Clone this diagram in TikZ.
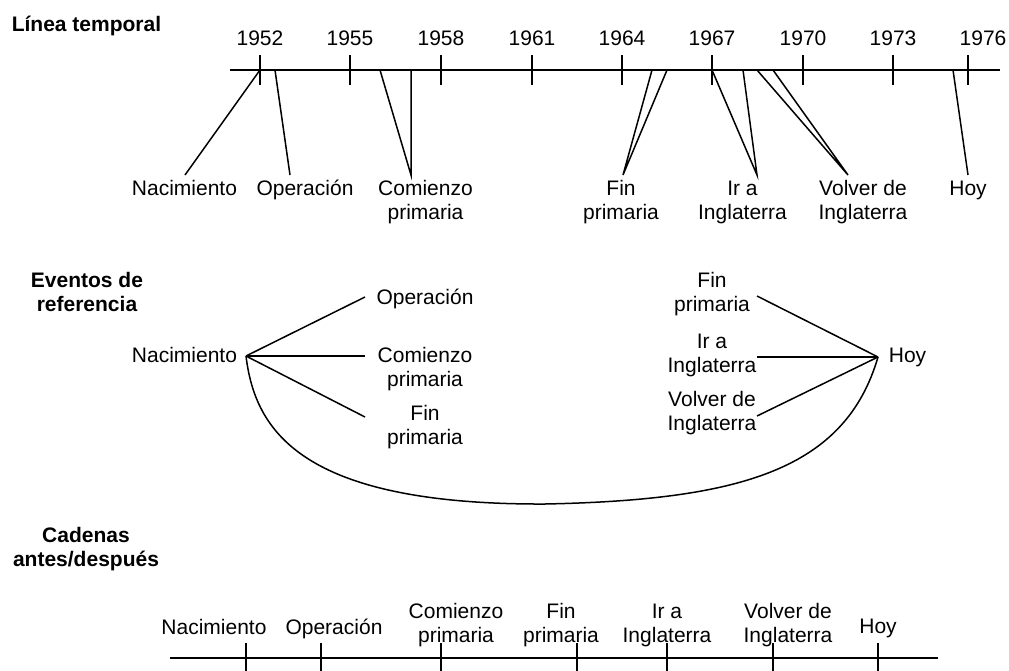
\documentclass[tikz,border=0pt]{standalone}
\usepackage{fontspec}
\setmainfont{Liberation Sans}
\usetikzlibrary{calc}
\newcommand{\twol}[2]{\begin{tabular}[t]{@{}c@{}}#1\\#2\end{tabular}}
\begin{document}
\begin{tikzpicture}[x=1pt,y=-1pt,
  every node/.style={inner sep=0pt, font=\fontsize{21}{24}\selectfont},
  lab/.style={anchor=base},
  ttl/.style={anchor=base, font=\fontsize{21}{24}\selectfont\bfseries},
  ln/.style={line width=1.5pt},
  tick/.style={line width=1.5pt}]
\useasboundingbox (0,0) rectangle (1009,670);

% ---------- Línea temporal ----------
\node[ttl] (tLin) at (86.5,31) {Línea temporal};
\coordinate (axL) at (230,70);
\coordinate (axR) at (1000,70);
\draw[ln] (axL) -- (axR);
\foreach \x/\yr/\lx in {260/1952/260, 350/1955/350, 441/1958/441, 532/1961/532,
                       622/1964/622, 712/1967/712, 803/1970/803, 893/1973/893, 968/1976/983}{
  \coordinate (y\yr) at (\x,70);
  \draw[tick] (\x,55) -- (\x,85);
  \node[lab] (yl\yr) at (\lx,45) {\yr};
}
\coordinate (pOp)   at (275,70);
\coordinate (pCom)  at (380,70);
\coordinate (pCom2) at (411,70);
\coordinate (pFin)  at (652,70);
\coordinate (pFin2) at (667,70);
\coordinate (pIr2)  at (743,70);
\coordinate (pVol)  at (757,70);
\coordinate (pVol2) at (773,70);
\coordinate (pHoy)  at (953,70);

\node[lab] (tNac) at (184.5,195.5) {Nacimiento};
\node[lab] (tOp)  at (305,195.5) {Operación};
\node[lab] (tCom) at (425.5,195.5) {\twol{Comienzo}{primaria}};
\node[lab] (tFin) at (621,195.5) {\twol{Fin}{primaria}};
\node[lab] (tIr)  at (742.5,195.5) {\twol{Ir a}{Inglaterra}};
\node[lab] (tVol) at (863,195.5) {\twol{Volver de}{Inglaterra}};
\node[lab] (tHoy) at (968,195.5) {Hoy};

\draw[ln] (y1952) -- ($(tNac.base)+(0.5,-20.5)$);
\draw[ln] (pOp) -- ($(tOp.base)+(-15,-20.5)$);
\draw[ln] (pCom) -- ($(tCom.base)+(-14.5,-20.5)$) -- (pCom2);
\draw[ln] (pFin) -- ($(tFin.base)+(2,-20.5)$) -- (pFin2);
\draw[ln] (y1967) -- ($(tIr.base)+(14.5,-20.5)$) -- (pIr2);
\draw[ln] (pVol) -- ($(tVol.base)+(-15,-20.5)$) -- (pVol2);
\draw[ln] (pHoy) -- ($(tHoy.base)+(0,-20.5)$);

% ---------- Eventos de referencia ----------
\node[ttl] (tEv) at (87,287) {\twol{Eventos de}{referencia}};
\node[lab] (mNac) at (184.5,362) {Nacimiento};
\coordinate (hubL) at (246,356);
\node[lab] (mOp)  at (425,304.5) {Operación};
\node[lab] (mCom) at (425,362) {\twol{Comienzo}{primaria}};
\node[lab] (mFin) at (425,420) {\twol{Fin}{primaria}};
\draw[ln] (hubL) -- ($(mOp.base)+(-60,-7.5)$);
\draw[ln] (hubL) -- ($(mCom.base)+(-60,-6)$);
\draw[ln] (hubL) -- ($(mFin.base)+(-60,-3)$);

\node[lab] (mHoy) at (907.5,362) {Hoy};
\coordinate (hubR) at (878,357);
\node[lab] (mFin2) at (712,287) {\twol{Fin}{primaria}};
\node[lab] (mIr)   at (712,348) {\twol{Ir a}{Inglaterra}};
\node[lab] (mVol)  at (712,406.5) {\twol{Volver de}{Inglaterra}};
\draw[ln] (hubR) -- ($(mFin2.base)+(45,9)$);
\draw[ln] (hubR) -- ($(mIr.base)+(45,9)$);
\draw[ln] (hubR) -- ($(mVol.base)+(45,9.5)$);

\draw[ln] (hubL) .. controls (255,430) and (300,505) .. (545,504)
                 .. controls (740,500) and (845,470) .. (hubR);

% ---------- Cadenas antes/después ----------
\node[ttl] (tCad) at (86,542) {\twol{Cadenas}{antes/después}};
\coordinate (bL) at (170,658);
\coordinate (bR) at (938,658);
\draw[ln] (bL) -- (bR);
\node[lab] (bNac) at (214,634) {Nacimiento};
\node[lab] (bOp)  at (334,634) {Operación};
\node[lab] (bCom) at (456,618) {\twol{Comienzo}{primaria}};
\node[lab] (bFin) at (561,618) {\twol{Fin}{primaria}};
\node[lab] (bIr)  at (667,618) {\twol{Ir a}{Inglaterra}};
\node[lab] (bVol) at (788,618) {\twol{Volver de}{Inglaterra}};
\node[lab] (bHoy) at (878,633) {Hoy};
\foreach \n/\x in {Nac/246, Op/321, Com/441, Fin/577, Ir/667, Vol/773, Hoy/878}{
  \coordinate (k\n) at (\x,643);
  \draw[tick] (k\n) -- (\x,675);
}
\end{tikzpicture}
\end{document}
